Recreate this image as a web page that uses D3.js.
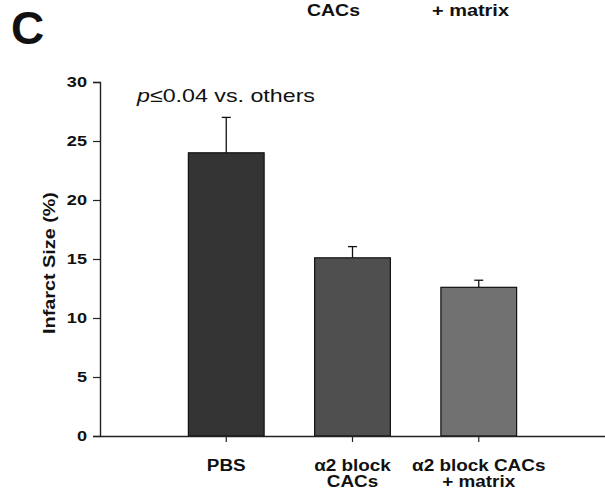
<!DOCTYPE html>
<html>
<head>
<meta charset="utf-8">
<script src="https://cdn.jsdelivr.net/npm/d3@7"></script>
<style>
  body { margin: 0; background: #fff; }
  text { font-family: "Liberation Sans", Arial, sans-serif; fill: #111; }
</style>
</head>
<body>
<svg id="chart" width="605" height="493"></svg>
<script>
// groups, mean infarct size and the upper error bar
const groups = ['PBS', 'a2 block CACs', 'a2 block CACs + matrix']
const labels = [['PBS'], ['\u03b12 block', 'CACs'], ['\u03b12 block CACs', '+ matrix']]
const means = [24.0, 15.1, 12.6]
const errs = [3.0, 0.95, 0.6]
const fills = ['#333333', '#4f4f4f', '#717171']
const yTicks = [0, 5, 10, 15, 20, 25, 30]
// labels left over from the panel above (cut off at the top)
const topLabels = [{text: 'CACs', x: 307, len: 53}, {text: '+ matrix', x: 432, len: 77}]

const svg = d3.select('#chart')

// stretch text a bit wider, the figure's font runs wider than Arial
function widen(sel, k) {
	sel.each(function() {
		let w = this.getComputedTextLength()
		d3.select(this).attr('textLength', w * k).attr('lengthAdjust', 'spacingAndGlyphs')
	})
}

let x = d3.scaleBand()
	.domain(groups)
	.range([100, 605])
	.paddingInner(0.4)
	.paddingOuter(0.7)

let y = d3.scaleLinear()
	.domain([0, 30])
	.range([436, 82])

// y axis
let yAxis = svg.append('g')
	.attr('transform', 'translate(100,0)')
	.call(d3.axisLeft(y).tickValues(yTicks).tickSize(7).tickPadding(6))
yAxis.select('.domain').attr('stroke', '#222').attr('stroke-width', 1.4)
yAxis.selectAll('.tick line').attr('stroke', '#222').attr('stroke-width', 1.2)
yAxis.selectAll('.tick text')
	.style('font-family', '"Liberation Sans", Arial, sans-serif')
	.style('font-size', '14.5px')
	.style('font-weight', 'bold')
	.attr('fill', '#111')
	.call(widen, 1.25)

// bars
svg.selectAll('.bar')
	.data(groups)
	.enter().append('rect')
	.attr('class', 'bar')
	.attr('x', d => x(d))
	.attr('width', x.bandwidth())
	.attr('y', (d, i) => y(means[i]))
	.attr('height', (d, i) => y(0) - y(means[i]))
	.attr('fill', (d, i) => fills[i])
	.attr('stroke', '#111')
	.attr('stroke-width', 1.2)

// error bars (upper only)
let cap = 4.5
groups.forEach((g, i) => {
	let cx = x(g) + x.bandwidth() / 2
	let top = y(means[i] + errs[i])
	svg.append('line')
		.attr('x1', cx).attr('x2', cx)
		.attr('y1', y(means[i])).attr('y2', top)
		.attr('stroke', '#111').attr('stroke-width', 1.3)
	svg.append('line')
		.attr('x1', cx - cap).attr('x2', cx + cap)
		.attr('y1', top).attr('y2', top)
		.attr('stroke', '#111').attr('stroke-width', 1.3)
})

// x axis
let xAxis = svg.append('g')
	.attr('transform', 'translate(0,436)')
	.call(d3.axisBottom(x).tickSize(6).tickSizeOuter(0).tickFormat(''))
xAxis.select('.domain').attr('stroke', '#222').attr('stroke-width', 1.4)
xAxis.selectAll('.tick line').attr('stroke', '#222').attr('stroke-width', 1.2)

// category labels, one or two lines
groups.forEach((g, i) => {
	let cx = x(g) + x.bandwidth() / 2
	labels[i].forEach((line, j) => {
		svg.append('text')
			.attr('x', cx)
			.attr('y', 470.5 + j * 16.7)
			.attr('text-anchor', 'middle')
			.style('font-size', '16px')
			.style('font-weight', 'bold')
			.text(line)
			.call(widen, 1.18)
	})
})

// y axis title
svg.append('text')
	.attr('transform', 'translate(54.5,263) rotate(-90)')
	.attr('text-anchor', 'middle')
	.style('font-size', '16.5px')
	.style('font-weight', 'bold')
	.text('Infarct Size (%)')
	.call(widen, 1.2)

// significance note
let note = svg.append('text')
	.attr('x', 137)
	.attr('y', 102)
	.style('font-size', '19px')
note.append('tspan').style('font-style', 'italic').text('p')
note.append('tspan').text('\u22640.04 vs. others')
note.attr('textLength', 178).attr('lengthAdjust', 'spacingAndGlyphs')

// panel letter
svg.append('text')
	.attr('x', 11)
	.attr('y', 43.5)
	.style('font-size', '46px')
	.style('font-weight', 'bold')
	.text('C')

svg.selectAll('.top-label')
	.data(topLabels)
	.enter().append('text')
	.attr('class', 'top-label')
	.attr('x', d => d.x)
	.attr('y', 16)
	.attr('textLength', d => d.len)
	.attr('lengthAdjust', 'spacingAndGlyphs')
	.style('font-size', '16.5px')
	.style('font-weight', 'bold')
	.text(d => d.text)
</script>
</body>
</html>
